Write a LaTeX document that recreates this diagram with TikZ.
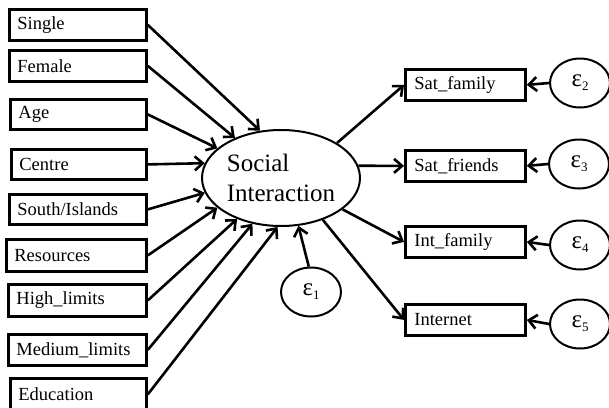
\documentclass[tikz,border=0pt]{standalone}
\usepackage{fontspec}
\setmainfont{Liberation Serif}
\usetikzlibrary{shapes.geometric,arrows.meta}

\tikzset{
  lbox/.style={draw, line width=2.8pt, rectangle, anchor=north west,
    inner xsep=8pt, inner ysep=0pt, align=left,
    font=\fontsize{18.5}{20}\selectfont},
  rbox/.style={lbox, inner xsep=9pt, text width=102pt, minimum height=31pt},
  latent/.style={draw, ellipse, line width=2pt, inner sep=0pt},
  err/.style={latent, minimum width=60pt, minimum height=49pt},
  path/.style={line width=2.6pt, -{Straight Barb[length=8pt,width=14pt,line width=2.6pt]}},
}
\newcommand{\errlabel}[1]{{\fontsize{25}{25}\selectfont ε}\raisebox{-4pt}{\fontsize{13}{13}\selectfont #1}}

\begin{document}
\begin{tikzpicture}[x=1pt,y=-1pt]
\useasboundingbox (0,0) rectangle (609,407);

% exogenous predictors
\node[lbox, text width=121pt, minimum height=31pt] (single) at (8,8)   {Single};
\node[lbox, text width=121pt, minimum height=31pt] (female) at (8,49)  {Female};
\node[lbox, text width=120pt, minimum height=30pt] (age)    at (9,98)  {Age};
\node[lbox, text width=119pt, minimum height=30pt] (centre) at (10,148) {Centre};
\node[lbox, text width=121pt, minimum height=30pt] (south)  at (8,193) {South/Islands};
\node[lbox, text width=124pt, minimum height=32pt] (res)    at (5,238) {Resources};
\node[lbox, text width=122pt, minimum height=32pt] (high)   at (7,283) {High\_limits};
\node[lbox, text width=122pt, minimum height=31pt] (medium) at (7,333) {Medium\_limits};
\node[lbox, text width=120pt, minimum height=32pt] (edu)    at (9,377) {Education};

% latent construct
\node[latent, minimum width=158pt, minimum height=96pt, align=left,
      font=\fontsize{25}{30}\selectfont] (si) at (281,178) {Social\\Interaction};
\node[err] (e1) at (311,292) {\errlabel{1}};

% indicators
\node[rbox] (satfam) at (404,68)  {Sat\_family};
\node[rbox] (satfr)  at (404,149) {Sat\_friends};
\node[rbox] (intfam) at (404,225) {Int\_family};
\node[rbox] (inet)   at (404,303) {Internet};

% measurement errors
\node[err] (e2) at (580,83)  {\errlabel{2}};
\node[err] (e3) at (579,164) {\errlabel{3}};
\node[err] (e4) at (580,245) {\errlabel{4}};
\node[err] (e5) at (580,324) {\errlabel{5}};

% structural paths
\draw[path] (single.east) -- (si.114.7);
\draw[path] (female.east) -- (si.139.5);
\draw[path] (age.east)    -- (si.155.6);
\draw[path] (centre.east) -- (si.169);
\draw[path] (south.east)  -- (si.191);
\draw[path] (res.east)    -- (si.205.9);
\draw[path] (high.east)   -- (si.223.7);
\draw[path] (medium.east) -- (si.238.2);
\draw[path] (edu.east)    -- (si.266.6);
\draw[path] (e1.95)       -- (si.290.8);

% loadings
\draw[path] (si.32)    -- (satfam.west);
\draw[path] (si.9.3)   -- (satfr.west);
\draw[path] (si.333.4) -- (intfam.west);
\draw[path] (si.315)   -- (inet.west);

% error paths
\draw[path] (e2.west) -- (satfam.east);
\draw[path] (e3.west) -- (satfr.east);
\draw[path] (e4.west) -- (intfam.east);
\draw[path] (e5.west) -- (inet.east);
\end{tikzpicture}
\end{document}
